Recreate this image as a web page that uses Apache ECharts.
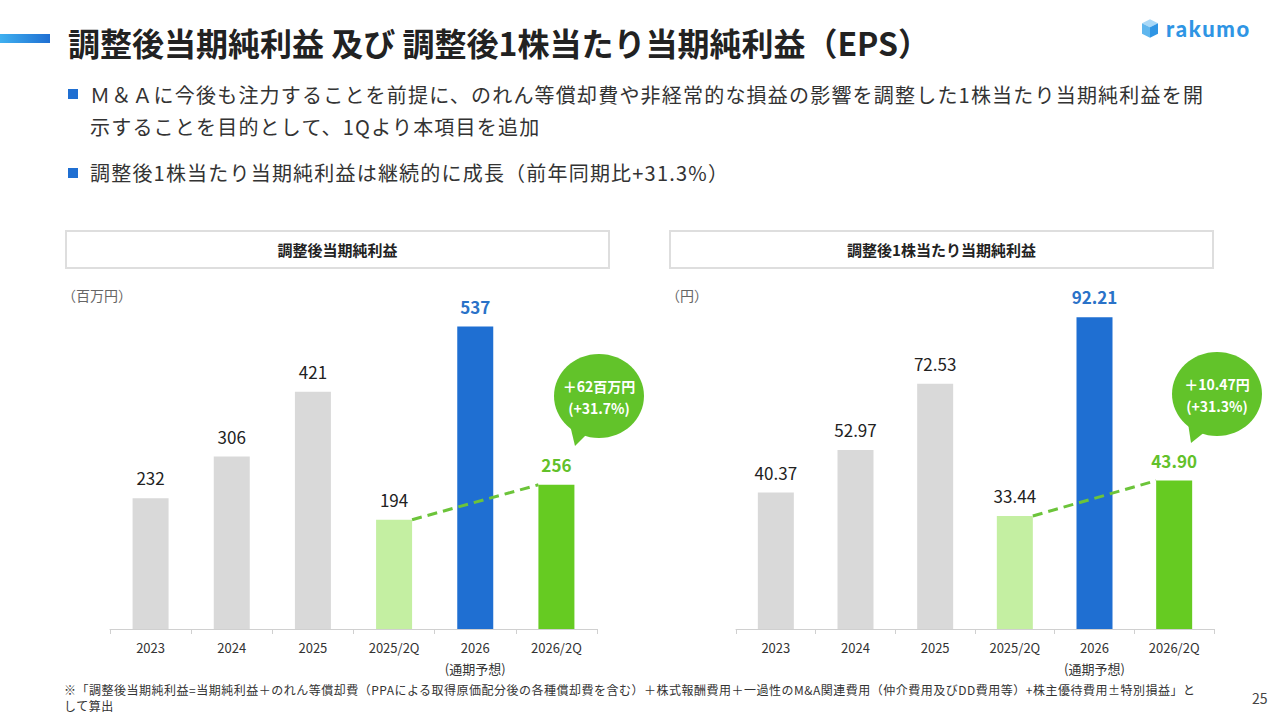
<!DOCTYPE html>
<html lang="ja">
<head>
<meta charset="utf-8">
<script src="https://cdn.jsdelivr.net/npm/echarts@6/dist/echarts.min.js"></script>
<style>
  html, body { margin: 0; padding: 0; background: #fff; }
  body { width: 1280px; height: 720px; position: relative; overflow: hidden;
         font-family: "Noto Sans CJK JP", "Noto Sans", sans-serif; color: #333; }
  #chart { position: absolute; left: 0; top: 0; width: 1280px; height: 720px; }
  .abs { position: absolute; white-space: nowrap; }
  .accent { left: 0; top: 34px; width: 50px; height: 9px;
            background: linear-gradient(90deg, #3fb0f0, #1f6fd2); }
  .title { left: 68px; top: 20px; font-size: 32px; font-weight: 700; line-height: 44px; color: #222; }
  .sq { width: 10px; height: 10px; background: #1f6fd2; }
  .bullet { left: 90px; font-size: 20px; line-height: 32px; letter-spacing: 1.2px; color: #333; }
  .head { height: 35px; border: 2px solid #dedede; font-size: 15px; font-weight: 700;
          line-height: 35px; text-align: center; color: #222; box-sizing: content-box; }
  .unit { font-size: 14px; color: #666; top: 285px; }
  .note { left: 64px; top: 682px; font-size: 12px; line-height: 16px; color: #333; letter-spacing: 0.5px; }
  .page { left: 1252px; top: 688px; font-size: 14px; color: #444; }
  .logo { left: 1166px; top: 15px; font-family: "Lato", sans-serif; font-weight: 900;
          font-size: 22px; color: #2f95e4; letter-spacing: 1.6px; }
</style>
</head>
<body>
<div id="chart"></div>

<div class="abs accent"></div>
<div class="abs title">調整後当期純利益 及び 調整後1株当たり当期純利益（EPS）</div>

<svg class="abs" style="left:1142px;top:19px" width="16" height="19" viewBox="0 0 18 21">
  <polygon points="9,0 18,4.5 9,9 0,4.5" fill="#a9d8f7"/>
  <polygon points="0,4.5 9,9 9,21 0,16.5" fill="#5fb6ee"/>
  <polygon points="9,9 18,4.5 18,16.5 9,21" fill="#2f95e4"/>
</svg>
<div class="abs logo">rakumo</div>

<div class="abs sq" style="left:68px;top:89px"></div>
<div class="abs bullet" style="top:79px">Ｍ＆Ａに今後も注力することを前提に、のれん等償却費や非経常的な損益の影響を調整した1株当たり当期純利益を開<br>示することを目的として、1Qより本項目を追加</div>
<div class="abs sq" style="left:68px;top:168px"></div>
<div class="abs bullet" style="top:157px">調整後1株当たり当期純利益は継続的に成長（前年同期比+31.3%）</div>

<div class="abs head" style="left:65px;top:230px;width:541px">調整後当期純利益</div>
<div class="abs head" style="left:669px;top:230px;width:541px">調整後1株当たり当期純利益</div>
<div class="abs unit" style="left:62px">（百万円）</div>
<div class="abs unit" style="left:666px">（円）</div>

<div class="abs note">※「調整後当期純利益=当期純利益＋のれん等償却費（PPAによる取得原価配分後の各種償却費を含む）＋株式報酬費用＋一過性のM&amp;A関連費用（仲介費用及びDD費用等）+株主優待費用±特別損益」と<br>して算出</div>
<div class="abs page">25</div>

<script>
const categories = ['2023', '2024', '2025', '2025/2Q', '2026', '2026/2Q'];
const axisLabels = ['2023', '2024', '2025', '2025/2Q', '2026\n(通期予想)', '2026/2Q'];
const netIncome = [232, 306, 421, 194, 537, 256];   // 百万円
const eps = [40.37, 52.97, 72.53, 33.44, 92.21, 43.90]; // 円
const barColors = ['#d9d9d9', '#d9d9d9', '#d9d9d9', '#c4efa2', '#1f6fd2', '#66cb22'];
const labelColors = ['#222', '#222', '#222', '#222', '#2a72c8', '#62c12a'];
const labelBold = [false, false, false, false, true, true];
const bubbleTexts = [['＋62百万円', '(+31.7%)'], ['＋10.47円', '(+31.3%)']];

const BAR_W = 36;
const chart = echarts.init(document.getElementById('chart'), null, { renderer: 'svg' });

function barData(values, decimals) {
  return values.map((v, i) => ({
    value: v,
    itemStyle: { color: barColors[i] },
    label: {
      color: labelColors[i],
      fontWeight: labelBold[i] ? 'bold' : 'normal',
      formatter: () => v.toFixed(decimals)
    }
  }));
}

// dashed trend line from the 2025/2Q bar top to the 2026/2Q bar top
function trendLine(params, api) {
  const a = api.coord([api.value(0), api.value(1)]);
  const b = api.coord([api.value(2), api.value(3)]);
  return {
    type: 'line',
    shape: { x1: a[0] + BAR_W / 2, y1: a[1], x2: b[0] - BAR_W / 2, y2: b[1] },
    style: { stroke: '#6cc43a', lineWidth: 3, lineDash: [10, 6] }
  };
}

function xAxisFor(gridIndex) {
  return {
    type: 'category', gridIndex, data: categories,
    axisLine: { lineStyle: { color: '#d0d0d0', width: 1 } },
    axisTick: { show: true, length: 5, lineStyle: { color: '#d0d0d0' } },
    axisLabel: {
      color: '#333', fontSize: 13, margin: 8, lineHeight: 21,
      fontFamily: 'Noto Sans CJK JP',
      formatter: (v, i) => axisLabels[i]
    }
  };
}

function bubble(cx, cy, tail, lines) {
  const font = 'bold 14px "Noto Sans CJK JP"';
  return {
    type: 'group',
    children: [
      { type: 'polygon', shape: { points: tail }, style: { fill: '#62c32a' } },
      { type: 'ellipse', shape: { cx, cy, rx: 45, ry: 42 }, style: { fill: '#62c32a' } },
      { type: 'text', x: cx, y: cy - 10,
        style: { text: lines[0], fill: '#fff', font, align: 'center', verticalAlign: 'middle' } },
      { type: 'text', x: cx, y: cy + 12,
        style: { text: lines[1], fill: '#fff', font, align: 'center', verticalAlign: 'middle' } }
    ]
  };
}

const labelBase = { show: true, position: 'top', distance: 12, fontSize: 17, fontFamily: 'Noto Sans CJK JP' };

chart.setOption({
  animation: false,
  grid: [
    { left: 110, top: 291, width: 487, height: 338 },
    { left: 736, top: 291, width: 478, height: 338 }
  ],
  xAxis: [xAxisFor(0), xAxisFor(1)],
  yAxis: [
    { type: 'value', gridIndex: 0, min: 0, max: 600, show: false, splitLine: { show: false } },
    { type: 'value', gridIndex: 1, min: 0, max: 100, show: false, splitLine: { show: false } }
  ],
  series: [
    { type: 'bar', xAxisIndex: 0, yAxisIndex: 0, barWidth: BAR_W, label: labelBase, data: barData(netIncome, 0) },
    { type: 'bar', xAxisIndex: 1, yAxisIndex: 1, barWidth: BAR_W, label: labelBase, data: barData(eps, 2) },
    { type: 'custom', xAxisIndex: 0, yAxisIndex: 0, z: 5, renderItem: trendLine,
      encode: { x: 0, y: 1 }, data: [[3, netIncome[3], 5, netIncome[5]]] },
    { type: 'custom', xAxisIndex: 1, yAxisIndex: 1, z: 5, renderItem: trendLine,
      encode: { x: 0, y: 1 }, data: [[3, eps[3], 5, eps[5]]] }
  ],
  graphic: [
    bubble(599, 396, [[570, 425], [588, 433], [575, 446]], bubbleTexts[0]),
    bubble(1217, 394, [[1188, 423], [1206, 431], [1191, 443]], bubbleTexts[1])
  ]
});
</script>
</body>
</html>
